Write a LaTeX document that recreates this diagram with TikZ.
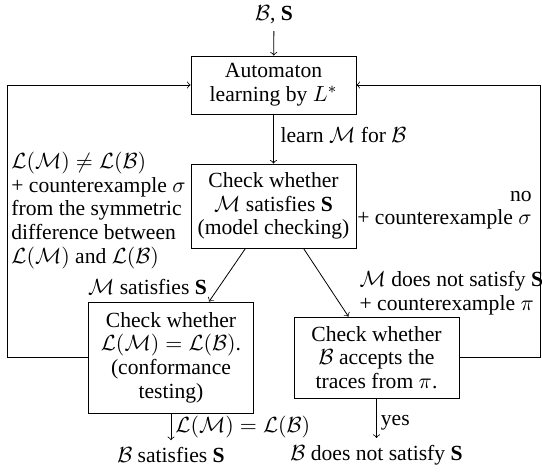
\documentclass[tikz,border=0pt]{standalone}
\usepackage{fontspec}
\setmainfont{Liberation Serif}
\usetikzlibrary{positioning}

\begin{document}
\begin{tikzpicture}[x=0.5pt,y=-0.5pt,
    every node/.style={font=\fontsize{10.8}{11.8}\selectfont},
    box/.style={draw,align=center,minimum width=82.5pt,inner sep=3pt},
    lbl/.style={inner sep=2pt}]
    \useasboundingbox (0,0) rectangle (542,475);
    % boxes
    \node (input) at (274,15) {$\mathcal{B}$, \textbf{S}};
    \node[box,minimum height=29pt] (learn) at (273.5,85) {Automaton\\learning by $L^*$};
    \node[box,minimum height=42pt] (mc) at (273.5,206) {Check whether\\$\mathcal{M}$ satisfies \textbf{S}\\(model checking)};
    \node[box,minimum height=55.5pt] (conf) at (171,357.5) {Check whether\\$\mathcal{L}(\mathcal{M}) = \mathcal{L}(\mathcal{B})$.\\(conformance\\testing)};
    \node[box,minimum height=40.5pt] (trace) at (376.5,357.5) {Check whether\\$\mathcal{B}$ accepts the\\traces from $\pi$.};
    \node (sat) at (171,455) {$\mathcal{B}$ satisfies \textbf{S}};
    \node (unsat) at (376.5,455) {$\mathcal{B}$ does not satisfy \textbf{S}};
    \coordinate (leftbend) at (7,85);
    \coordinate (rightbend) at (540,85);
    % arrows
    \draw[->] (input) -- (learn);
    \draw[->] (learn) -- node[right,pos=0.42] {learn $\mathcal{M}$ for $\mathcal{B}$} (mc);
    \draw[->] ([xshift=-14pt]mc.south) -- node[pos=0.72,left=4pt,lbl] {$\mathcal{M}$ satisfies \textbf{S}} ([xshift=19pt]conf.north);
    \draw[->] ([xshift=15pt]mc.south) -- node[pos=0.66,right=11pt,align=left,lbl] {$\mathcal{M}$ does not satisfy \textbf{S}\\+ counterexample $\pi$} ([xshift=-14pt]trace.north);
    \draw[->] (conf) -- node[right,lbl] {$\mathcal{L}(\mathcal{M}) = \mathcal{L}(\mathcal{B})$} (sat);
    \draw[->] (trace) -- node[right,pos=0.62,lbl] {yes} (unsat);
    % feedback
    \draw[->] (conf.west) -| node[pos=0.77,right,align=left,lbl] {$\mathcal{L}(\mathcal{M}) \neq \mathcal{L}(\mathcal{B})$\\+ counterexample $\sigma$\\from the symmetric\\difference between\\$\mathcal{L}(\mathcal{M})$ and $\mathcal{L}(\mathcal{B})$} (leftbend) -- (learn.west);
    \draw[->] (trace.east) -| node[pos=0.77,left,align=right,inner sep=4pt] {no\\+ counterexample $\sigma$} (rightbend) -- (learn.east);
\end{tikzpicture}
\end{document}
